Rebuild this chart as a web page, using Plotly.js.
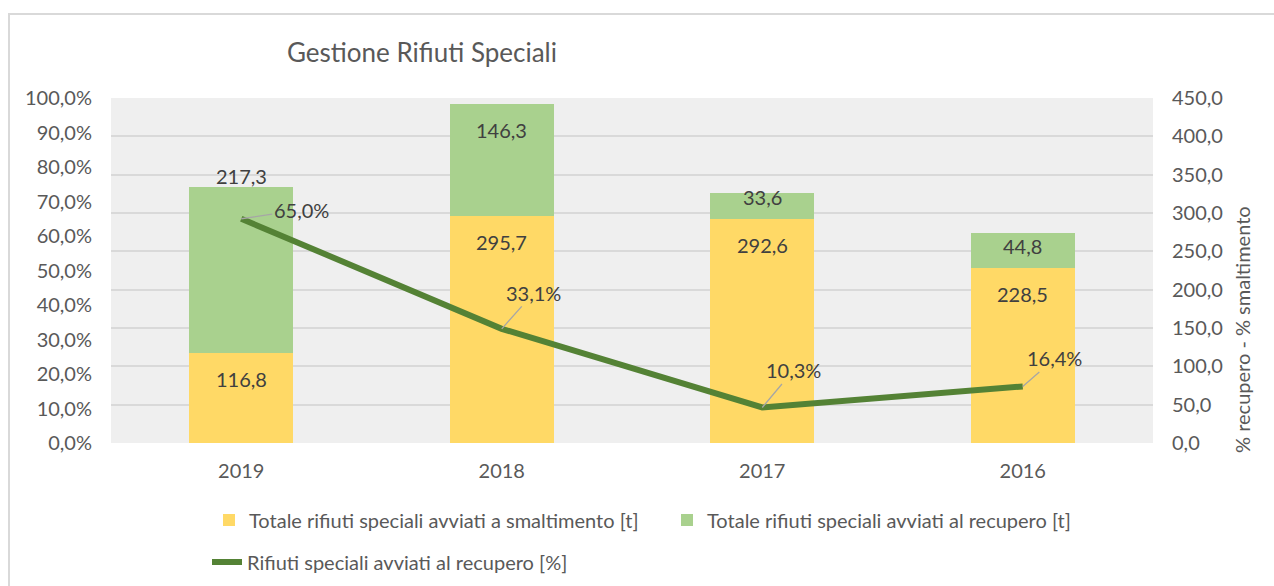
<!DOCTYPE html>
<html><head><meta charset="utf-8">
<script src="https://cdn.plot.ly/plotly-3.0.1.min.js"></script>
<style>html,body{margin:0;padding:0;background:#fff;} #chart{width:1274px;height:586px;}</style>
</head><body><div id="chart"></div>
<script>
// ---- data ----
const anni = ['2019', '2018', '2017', '2016'];
const smaltimento = [116.8, 295.7, 292.6, 228.5];
const recupero = [217.3, 146.3, 33.6, 44.8];
const percRecupero = [0.650, 0.331, 0.103, 0.164];
const nomeSmalt = 'Totale rifiuti speciali avviati a smaltimento [t]';
const nomeRecup = 'Totale rifiuti speciali avviati al recupero [t]';
const nomePerc = 'Rifiuti speciali avviati al recupero [%]';
const titolo = 'Gestione Rifiuti Speciali';
const titoloAsse = '% recupero - % smaltimento';

// ---- styles ----
const FONT = 'Lato, "Open Sans", sans-serif';
const GRAY = '#595959';
const DARK = '#404040';
const FS = 20;
const offSmalt = [-26, -26, -26, -26];
const offRecup = [11, -26, -4, -13];
const percOff = [[60, -9], [32, -36], [31, -37], [32, -28]];

const fmt1 = v => v.toFixed(1).replace('.', ',');

const traces = [
  { type: 'bar', name: nomeSmalt, x: anni, y: smaltimento, yaxis: 'y',
    marker: { color: '#FFD966' }, hoverinfo: 'skip', legend: 'legend' },
  { type: 'bar', name: nomeRecup, x: anni, y: recupero, yaxis: 'y',
    marker: { color: '#A9D18E' }, hoverinfo: 'skip', legend: 'legend' },
  { type: 'scatter', mode: 'lines', name: nomePerc, x: anni, y: percRecupero, yaxis: 'y2',
    line: { color: '#548235', width: 6 }, hoverinfo: 'skip', legend: 'legend2' }
];

const annotations = [];
anni.forEach((a, i) => {
  annotations.push({ x: i, y: smaltimento[i], xref: 'x', yref: 'y', text: fmt1(smaltimento[i]),
    showarrow: false, yanchor: 'middle', yshift: offSmalt[i], font: { family: FONT, size: FS, color: DARK } });
  annotations.push({ x: i, y: smaltimento[i] + recupero[i], xref: 'x', yref: 'y', text: fmt1(recupero[i]),
    showarrow: false, yanchor: 'middle', yshift: offRecup[i], font: { family: FONT, size: FS, color: DARK } });
  annotations.push({ x: i, y: percRecupero[i], xref: 'x', yref: 'y2', text: fmt1(percRecupero[i] * 100) + '%',
    showarrow: true, arrowhead: 0, arrowwidth: 1.3, arrowcolor: '#a6a6a6', standoff: 0,
    ax: percOff[i][0], ay: percOff[i][1], font: { family: FONT, size: FS, color: DARK } });
});
annotations.push({ xref: 'paper', yref: 'paper', x: (1242 - 111) / 1042, y: (443 - 330) / 345,
  text: titoloAsse, textangle: -90, showarrow: false, xanchor: 'center', yanchor: 'middle',
  font: { family: FONT, size: FS, color: GRAY } });

const legendBase = { orientation: 'h', xref: 'container', yref: 'container', xanchor: 'left', yanchor: 'middle',
  traceorder: 'normal', font: { family: FONT, size: FS, color: GRAY }, bgcolor: 'rgba(0,0,0,0)' };

const layout = {
  width: 1274, height: 586,
  margin: { l: 111, r: 121, t: 98, b: 143 },
  paper_bgcolor: '#ffffff', plot_bgcolor: '#efefef',
  separators: ',.',
  barmode: 'stack', bargap: 0.6,
  font: { family: FONT, size: FS, color: GRAY },
  title: { text: titolo, x: 422 / 1274, xanchor: 'center', xref: 'container',
    y: 1 - 53 / 586, yanchor: 'middle', yref: 'container', font: { family: FONT, size: 26, color: GRAY } },
  xaxis: { type: 'category', range: [-0.5, 3.5], showgrid: false, showline: false, zeroline: false, ticks: '',
    ticklabelstandoff: 14, tickfont: { family: FONT, size: FS, color: GRAY } },
  yaxis: { side: 'right', range: [0, 450], dtick: 50, tickformat: '.1f', showgrid: true,
    gridcolor: '#d9d9d9', gridwidth: 2, zeroline: false, showline: false, ticks: '',
    ticklabelstandoff: 18, tickfont: { family: FONT, size: FS, color: GRAY } },
  yaxis2: { overlaying: 'y', side: 'left', range: [0, 1], dtick: 0.1, tickformat: '.1%',
    showgrid: false, zeroline: false, showline: false, ticks: '',
    ticklabelstandoff: 18, tickfont: { family: FONT, size: FS, color: GRAY } },
  legend: Object.assign({}, legendBase, { x: 209 / 1274, y: 1 - 520 / 586, entrywidth: 413, entrywidthmode: 'pixels' }),
  legend2: Object.assign({}, legendBase, { x: 207 / 1274, y: 1 - 562 / 586 }),
  annotations: annotations,
  shapes: [{ type: 'rect', xref: 'paper', yref: 'paper',
    x0: (9 - 111) / 1042, x1: (1300 - 111) / 1042, y0: (443 - 620) / 345, y1: (443 - 14) / 345,
    line: { color: '#d9d9d9', width: 2 }, fillcolor: 'rgba(0,0,0,0)', layer: 'below' }],
  showlegend: true
};

Plotly.newPlot('chart', traces, layout, { displayModeBar: false, staticPlot: true });
</script>
</body></html>
